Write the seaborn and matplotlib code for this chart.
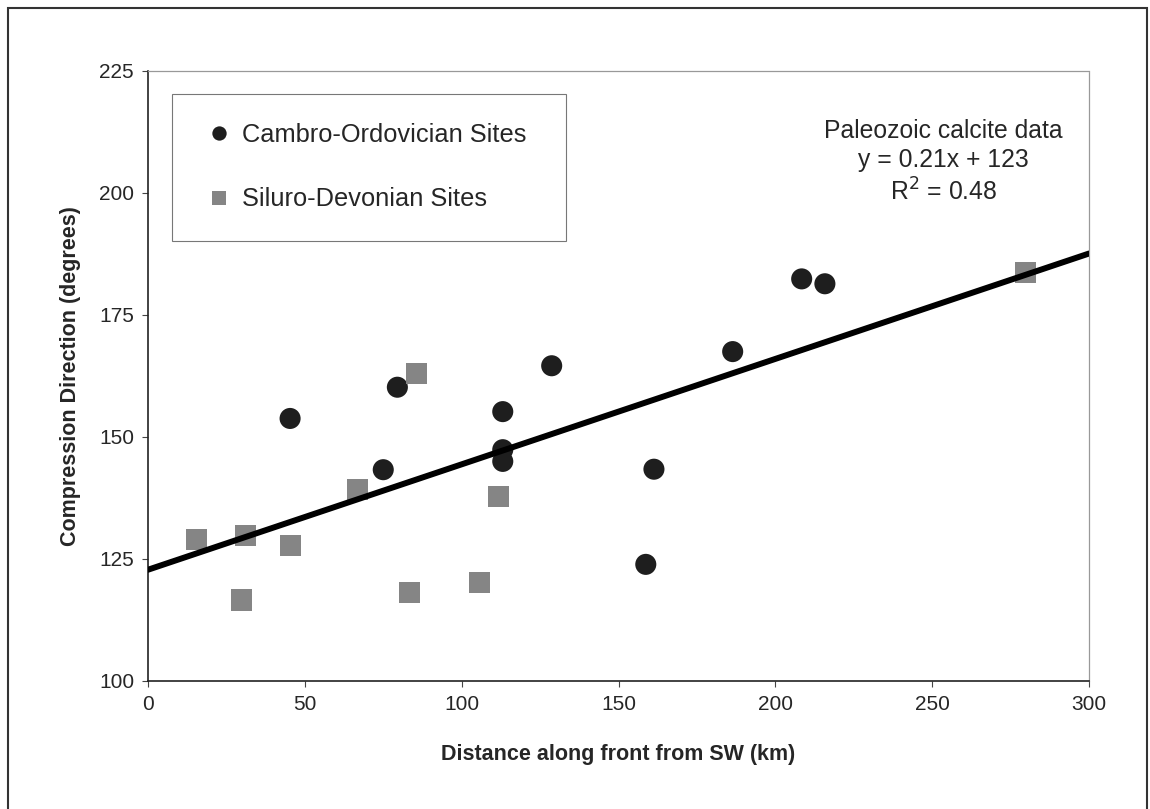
import seaborn as sns
import matplotlib.pyplot as plt
import matplotlib.patches as mpatches
import pandas as pd
import numpy as np

# values
cambro_x = [45.3, 79.5, 75.0, 113.1, 113.1, 113.1, 128.7, 161.3, 158.7, 186.4, 208.4, 215.8]
cambro_y = [153.8, 160.2, 143.3, 155.2, 147.4, 145.0, 164.6, 143.4, 123.9, 167.5, 182.4, 181.4]
siluro_x = [15.5, 31.2, 29.9, 45.3, 66.7, 85.6, 83.3, 105.8, 111.7, 279.9]
siluro_y = [128.9, 129.8, 116.6, 127.7, 139.2, 163.0, 118.1, 120.2, 137.9, 183.8]
groups = ['Cambro-Ordovician Sites', 'Siluro-Devonian Sites']

fit_slope = 0.216
fit_intercept = 122.8
line_x = np.array([0, 300])

x_ticks = [0, 50, 100, 150, 200, 250, 300]
y_ticks = [100, 125, 150, 175, 200, 225]

df = pd.DataFrame({
    'x': cambro_x + siluro_x,
    'y': cambro_y + siluro_y,
    'group': [groups[0]] * len(cambro_x) + [groups[1]] * len(siluro_x),
})

sns.set_style('ticks')
plt.rcParams['font.family'] = ['Liberation Sans', 'DejaVu Sans']

fig = plt.figure(figsize=(11.5, 8.09), dpi=100)
ax = fig.add_axes([148 / 1150, 1 - 681 / 809, 941 / 1150, 610 / 809])

sns.scatterplot(data=df, x='x', y='y', hue='group', style='group',
                markers={groups[0]: 'o', groups[1]: 's'},
                palette={groups[0]: '#1e1e1e', groups[1]: '#858585'},
                s=230, linewidth=0, ax=ax, zorder=3)

sns.lineplot(x=line_x, y=fit_intercept + fit_slope * line_x, color='black',
             linewidth=4.3, ax=ax, zorder=4)

ax.set_xlim(0, 300)
ax.set_ylim(100, 225)
ax.set_xticks(x_ticks)
ax.set_yticks(y_ticks)
ax.tick_params(labelsize=15, length=4, width=0.8, color='#444', pad=6)

narrow = ['Liberation Sans Narrow', 'Liberation Sans', 'DejaVu Sans']
ax.set_xlabel('Distance along front from SW (km)', fontsize=15.5, fontweight='bold',
              family=narrow, labelpad=22)
ax.set_ylabel('Compression Direction (degrees)', fontsize=15.5, fontweight='bold',
              family=narrow, labelpad=13)

for side in ['left', 'bottom']:
    ax.spines[side].set_color('#222')
    ax.spines[side].set_linewidth(1.2)
for side in ['top', 'right']:
    ax.spines[side].set_color('#999')
    ax.spines[side].set_linewidth(0.9)
    ax.spines[side].set_linestyle((0, (1, 1)))

leg = ax.legend(loc='upper left', bbox_to_anchor=(0.0252, 0.727, 0.419, 0.236),
                mode='expand', borderaxespad=0, fontsize=18.3, markerscale=0.68,
                frameon=True, fancybox=False, edgecolor='#555', borderpad=1.15,
                labelspacing=1.6, handlelength=1.45, handletextpad=0.15)
leg.get_frame().set_linewidth(0.8)

ax.text(0.845, 0.85, 'Paleozoic calcite data\ny = 0.21x + 123\nR$^2$ = 0.48',
        transform=ax.transAxes, ha='center', va='center', fontsize=17.8,
        linespacing=1.27)

# outer frame around the whole picture
fig.patches.append(mpatches.Rectangle((8 / 1150, -0.01), 1139 / 1150, 1 - 8 / 809 + 0.01,
                                      transform=fig.transFigure, fill=False,
                                      edgecolor='#333', linewidth=1.5))

fig.savefig('out.png', dpi=100)
